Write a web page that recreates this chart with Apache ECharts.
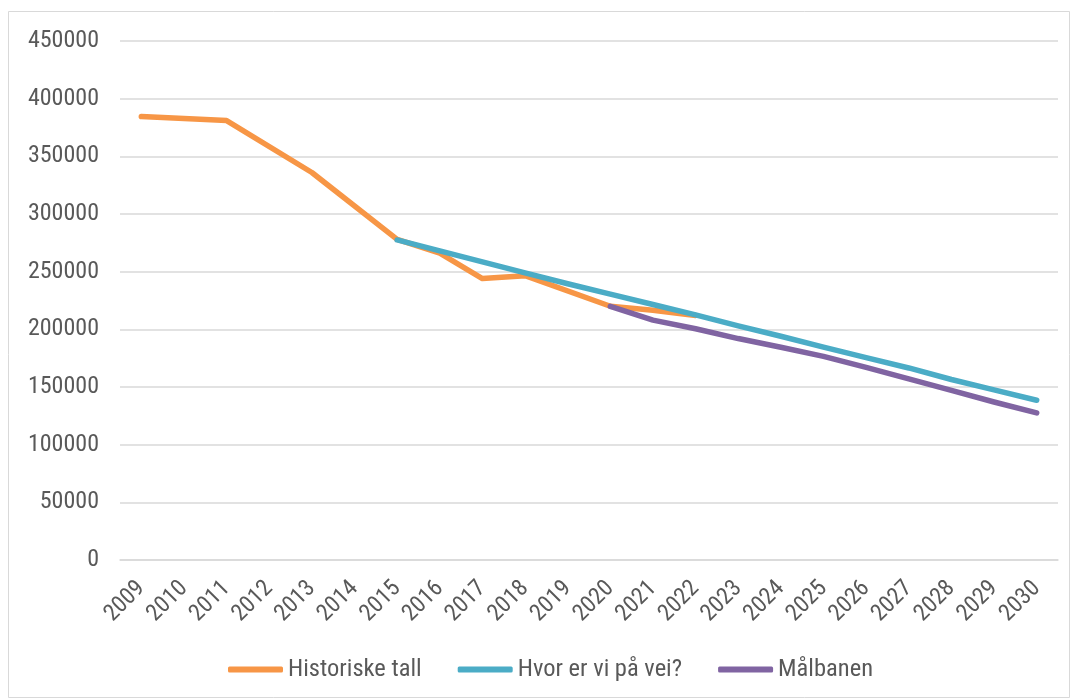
<!DOCTYPE html>
<html>
<head>
<meta charset="utf-8">
<script src="https://cdn.jsdelivr.net/npm/echarts@6/dist/echarts.min.js"></script>
<style>
html,body{margin:0;padding:0;background:#fff;}
#chart{width:1074px;height:699px;}
</style>
</head>
<body>
<div id="chart"></div>
<script>
const years = ['2009','2010','2011','2012','2013','2014','2015','2016','2017','2018','2019','2020','2021','2022','2023','2024','2025','2026','2027','2028','2029','2030'];
const historiske = [384500, null, 381000, null, 336000, null, 278000, 266000, 244000, 246500, null, 220000, 216500, 212000, null, null, null, null, null, null, null, null];
const hvorErVi = [null, null, null, null, null, null, 277500, 268000, 258500, 249000, 239500, 230500, 221500, 212500, 203000, 194000, 184500, 175500, 166500, 156500, 147500, 138500];
const malbanen = [null, null, null, null, null, null, null, null, null, null, null, 220000, 208000, 200500, 192000, 184500, 176500, 167000, 157000, 147000, 137000, 127500];
const seriesNames = ['Historiske tall', 'Hvor er vi på vei?', 'Målbanen'];
const colors = ['#F79646', '#4BACC6', '#8064A2'];

const chart = echarts.init(document.getElementById('chart'), null, {renderer: 'canvas'});
const FONT = "'Roboto Condensed', Lato";
const mk = (name, data, color) => ({
  name, type: 'line', data, connectNulls: true, showSymbol: false, symbol: 'none',
  lineStyle: {color, width: 5.5, cap: 'round', join: 'round'},
  itemStyle: {color}, animation: false
});
chart.setOption({
  animation: false,
  backgroundColor: '#fff',
  textStyle: {fontFamily: FONT},
  graphic: [{type: 'rect', shape: {x: 8.5, y: 11.5, width: 1061, height: 686}, style: {fill: 'none', stroke: '#d9d9d9', lineWidth: 1}, silent: true}],
  grid: {left: 120, right: 16, top: 41, bottom: 139},
  legend: {
    top: 657, left: 228, padding: 0, itemWidth: 55, itemHeight: 6, itemGap: 36, icon: 'roundRect',
    data: seriesNames,
    textStyle: {fontFamily: FONT, fontSize: 24.5, lineHeight: 24, color: '#595959'}
  },
  xAxis: {
    type: 'category', data: years, boundaryGap: true,
    axisLine: {show: true, lineStyle: {color: '#d9d9d9', width: 1.5}},
    axisTick: {show: false},
    axisLabel: {rotate: 45, interval: 0, margin: 25, color: '#595959', fontSize: 23.5, fontFamily: FONT}
  },
  yAxis: {
    type: 'value', min: 0, max: 450000, interval: 50000,
    axisLine: {show: false}, axisTick: {show: false},
    splitLine: {lineStyle: {color: '#d9d9d9', width: 1.5}},
    axisLabel: {margin: 21, color: '#595959', fontSize: 24, fontFamily: FONT, formatter: v => String(v)}
  },
  series: [mk(seriesNames[0], historiske, colors[0]), mk(seriesNames[1], hvorErVi, colors[1]), mk(seriesNames[2], malbanen, colors[2])]
});
</script>
</body>
</html>
